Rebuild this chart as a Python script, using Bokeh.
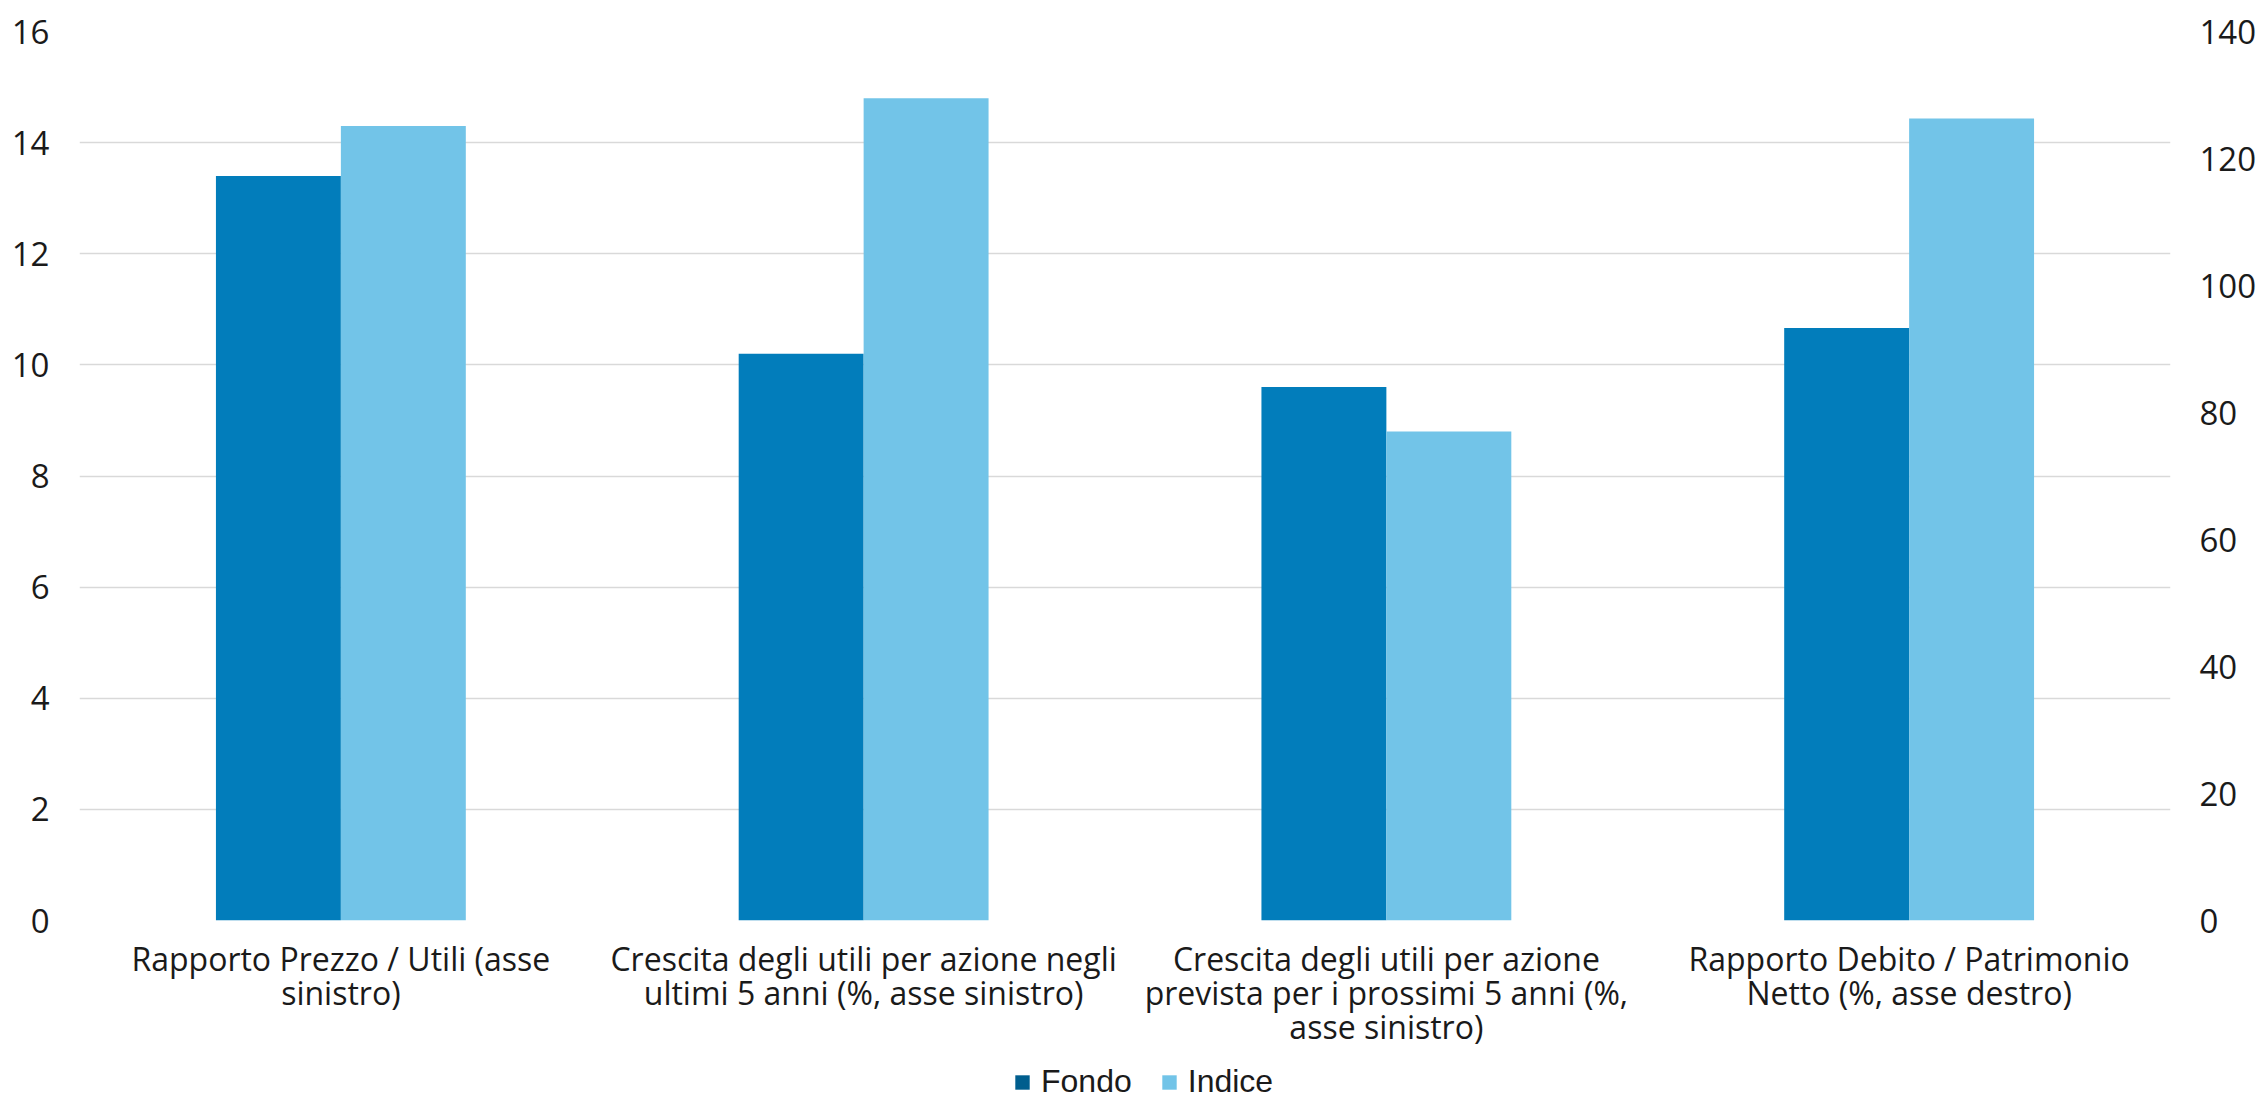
from bokeh.plotting import figure
from bokeh.layouts import column
from bokeh.models import (ColumnDataSource, FactorRange, Range1d, LinearAxis,
                          Legend, LegendItem, FixedTicker)
from bokeh.transform import dodge
from bokeh.embed import file_html
from bokeh.resources import INLINE

# Metrics shown on the x axis; the last one is read against the right axis
categories = [
    "Rapporto Prezzo / Utili (asse\nsinistro)",
    "Crescita degli utili per azione negli\nultimi 5 anni (%, asse sinistro)",
    "Crescita degli utili per azione\nprevista per i prossimi 5 anni (%,\nasse sinistro)",
    "Rapporto Debito / Patrimonio\nNetto (%, asse destro)",
]
axis_side = ["left", "left", "left", "right"]
fondo = [13.4, 10.2, 9.6, 93.3]
indice = [14.3, 14.8, 8.8, 126.3]
series_labels = ["Fondo", "Indice"]

left_ticks = [0, 2, 4, 6, 8, 10, 12, 14, 16]
right_ticks = [0, 20, 40, 60, 80, 100, 120, 140]

FONDO_COLOR = "#027DBB"
INDICE_COLOR = "#72C4E8"
FONDO_KEY = "#005E8E"
GRID = "#D9D9D9"
TEXT = "#1A1A1A"
FONT = "Open Sans"

p = figure(
    width=2259, height=1060,
    x_range=FactorRange(*categories, range_padding=0),
    y_range=Range1d(0, 16),
    output_backend="svg", toolbar_location=None,
    min_border_left=79, min_border_right=86, min_border_top=31,
    min_border_bottom=140, outline_line_color=None,
    background_fill_color="white", border_fill_color="white",
)
p.extra_y_ranges = {"right": Range1d(0, 140)}

def subset(side):
    idx = [i for i, s in enumerate(axis_side) if s == side]
    return ColumnDataSource(dict(
        cat=[categories[i] for i in idx],
        fondo=[fondo[i] for i in idx],
        indice=[indice[i] for i in idx],
    ))

bar_w = 0.239
for side in ("left", "right"):
    src = subset(side)
    kw = {} if side == "left" else {"y_range_name": "right"}
    p.vbar(x=dodge("cat", -bar_w / 2, range=p.x_range), top="fondo", width=bar_w,
           source=src, fill_color=FONDO_COLOR, line_color=None, **kw)
    p.vbar(x=dodge("cat", bar_w / 2, range=p.x_range), top="indice", width=bar_w,
           source=src, fill_color=INDICE_COLOR, line_color=None, **kw)

# Axes
p.yaxis.ticker = FixedTicker(ticks=left_ticks)
right_axis = LinearAxis(y_range_name="right", ticker=FixedTicker(ticks=right_ticks))
p.add_layout(right_axis, "right")

for ax in (p.yaxis[0], right_axis):
    ax.axis_line_color = None
    ax.major_tick_line_color = None
    ax.minor_tick_line_color = None
    ax.major_tick_out = 0
    ax.major_label_text_font = FONT
    ax.major_label_text_font_size = "33px"
    ax.major_label_text_color = TEXT
p.yaxis[0].major_label_standoff = 30
right_axis.major_label_standoff = 29

xa = p.xaxis[0]
xa.axis_line_color = None
xa.major_tick_line_color = None
xa.major_tick_out = 0
xa.major_label_standoff = 16
xa.major_label_text_font = FONT
xa.major_label_text_font_size = "32px"
xa.major_label_text_color = TEXT
xa.major_label_text_line_height = 0.8

p.xgrid.grid_line_color = None
p.ygrid.grid_line_color = GRID
p.ygrid.grid_line_width = 1.5
p.ygrid.ticker = FixedTicker(ticks=left_ticks)

# Legend strip underneath the chart (its frame lines up with the chart's)
leg = figure(
    width=2259, height=40, x_range=Range1d(0, 1), y_range=Range1d(0, 1),
    x_axis_location=None, y_axis_location=None,
    output_backend="svg", toolbar_location=None, min_border=0,
    outline_line_color=None, background_fill_color="white",
    border_fill_color="white",
)
leg.grid.grid_line_color = None

# zero-height bars: only their swatches appear, in the legend
key_src = ColumnDataSource(dict(x=[0], top=[0]))
k1 = leg.vbar(x="x", top="top", width=0, source=key_src,
              fill_color=FONDO_KEY, line_color=None)
k2 = leg.vbar(x="x", top="top", width=0, source=key_src,
              fill_color=INDICE_COLOR, line_color=None)

legend = Legend(
    items=[LegendItem(label=series_labels[0], renderers=[k1]),
           LegendItem(label=series_labels[1], renderers=[k2])],
    orientation="horizontal", location=(934, 0),
    label_text_font="Liberation Sans", label_text_font_size="32px",
    label_text_color=TEXT, glyph_width=18, glyph_height=18,
    label_standoff=10, spacing=28, padding=0, margin=0,
    border_line_color=None, background_fill_alpha=0,
)
leg.add_layout(legend, "center")

layout = column(p, leg, spacing=0)
open("out.html", "w").write(file_html(layout, INLINE))
